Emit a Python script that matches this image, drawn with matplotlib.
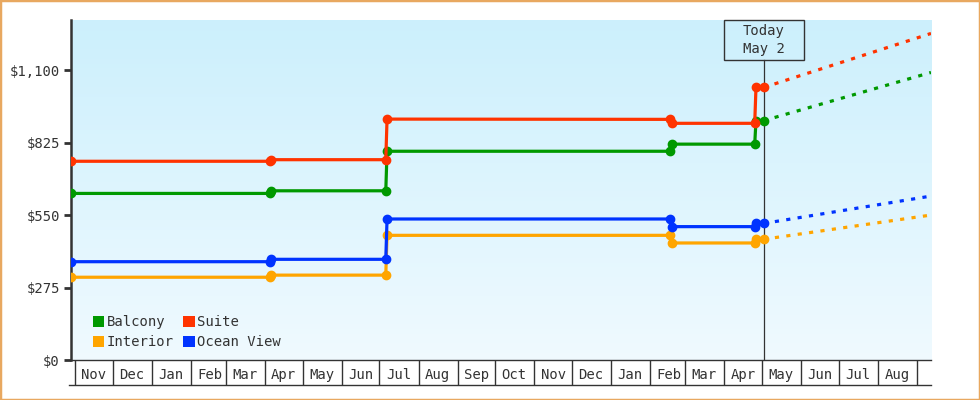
import datetime as dt
import numpy as np
import matplotlib
matplotlib.use("Agg")
import matplotlib.pyplot as plt
import matplotlib.dates as mdates
from matplotlib.patches import Patch, Rectangle
from matplotlib.lines import Line2D

# price history (date, price) per cabin type
hist_dates = ["2012-10-29", "2013-04-05", "2013-04-06", "2013-07-06", "2013-07-07",
              "2014-02-17", "2014-02-18", "2014-04-25", "2014-04-26", "2014-05-02"]
balcony = [632, 632, 642, 642, 792, 792, 819, 819, 908, 908]
suite = [754, 754, 760, 760, 914, 913, 898, 898, 1034, 1034]
interior = [314, 314, 322, 322, 473, 473, 444, 444, 458, 458]
ocean_view = [373, 373, 382, 382, 535, 535, 506, 506, 518, 518]

# projected prices from today to end of range
proj_dates = ["2014-05-02", "2014-09-12"]
balcony_proj = [908, 1091]
suite_proj = [1034, 1239]
interior_proj = [458, 550]
ocean_view_proj = [518, 622]

series_names = ["Balcony", "Interior", "Suite", "Ocean View"]
series_colors = ["#009900", "#ffa500", "#ff3300", "#0033ff"]

today = "2014-05-02"
today_label = "Today\nMay 2"
x_range = ("2012-10-29", "2014-09-12")
y_ticks = [0, 275, 550, 825, 1100]
y_max = 1290

FONT = "DejaVu Sans Mono"
INK = "#333333"
FS = 10


def to_num(dates):
    return mdates.date2num([dt.datetime.strptime(d, "%Y-%m-%d") for d in dates])


fig = plt.figure(figsize=(9.8, 4.0), dpi=100)
fig.patch.set_facecolor("white")
ax = fig.add_axes([71 / 980, 40 / 400, 860 / 980, 340 / 400])

# gradient background
grad = np.linspace(0, 1, 256)[:, None, None]
top_c = np.array([0.80, 0.94, 0.99])
bot_c = np.array([0.94, 0.98, 1.0])
img = top_c * (1 - grad) + bot_c * grad
img = np.repeat(img, 2, axis=1)
ax.imshow(img, extent=(0, 1, 0, 1), transform=ax.transAxes, aspect="auto", zorder=0)

hx = to_num(hist_dates)
px = to_num(proj_dates)
hist = [balcony, interior, suite, ocean_view]
proj = [balcony_proj, interior_proj, suite_proj, ocean_view_proj]

for ys, ps, c in zip(hist, proj, series_colors):
    ax.plot(hx, ys, color=c, lw=2.3, marker="o", ms=6, mec=c, zorder=3)
    ax.plot(px, ps, color=c, lw=2.3, dashes=(1.3, 2.3), dash_capstyle="butt", zorder=3)

xmin, xmax = to_num(x_range)
ax.set_xlim(xmin, xmax)
ax.set_ylim(0, y_max)

# today marker
t = to_num([today])[0]
box_y = (360 - 60) / 340
ax.axvline(t, ymin=0, ymax=box_y, color=INK, lw=0.9, zorder=2)
px_per_day = 860 / (xmax - xmin)
hw = 40 / px_per_day
ax.add_patch(Rectangle((t - hw, box_y), 2 * hw, 1 - box_y, transform=ax.get_xaxis_transform(),
                       facecolor="none", edgecolor=INK, lw=1.0, zorder=4, clip_on=False))
ax.text(t, (1 + box_y) / 2, today_label, transform=ax.get_xaxis_transform(), ha="center",
        va="center", fontsize=FS, family=FONT, color=INK, linespacing=1.35, zorder=5)

# y axis
ax.set_yticks(y_ticks)
ax.set_yticklabels(["$" + format(v, ",") for v in y_ticks], family=FONT, fontsize=FS, color=INK)
ax.tick_params(axis="y", length=5, width=2, color=INK, pad=3)

# x axis as month boxes
ax.xaxis.set_major_locator(mdates.MonthLocator())
ax.xaxis.set_major_formatter(plt.NullFormatter())
ax.xaxis.set_minor_locator(mdates.MonthLocator(bymonthday=16))
ax.xaxis.set_minor_formatter(mdates.DateFormatter("%b"))
ax.tick_params(axis="x", which="major", length=18, width=1.0, color=INK, direction="out")
ax.tick_params(axis="x", which="minor", length=0, pad=6, labelsize=FS, labelcolor=INK)
for lab in ax.get_xticklabels(minor=True):
    lab.set_family(FONT)

for s in ["top", "right"]:
    ax.spines[s].set_visible(False)
ax.spines["left"].set_linewidth(1.8)
ax.spines["left"].set_color(INK)
ax.spines["bottom"].set_linewidth(1.0)
ax.spines["bottom"].set_color(INK)
ax.add_line(Line2D([-0.002, 1.0], [-25 / 340, -25 / 340], transform=ax.transAxes,
                   color=INK, lw=1.0, clip_on=False))

# legend
handles = [Patch(facecolor=c, edgecolor="none", label=n) for n, c in zip(series_names, series_colors)]
ax.legend(handles=handles, ncol=2, loc="lower left", bbox_to_anchor=(0.025, 0.032),
          frameon=False, prop={"family": FONT, "size": FS}, handlelength=0.85,
          handleheight=0.85, handletextpad=0.15, columnspacing=0.7, labelspacing=0.45,
          borderpad=0, borderaxespad=0, labelcolor=INK)

# outer border
fig.add_artist(Rectangle((0, 0), 1, 1, transform=fig.transFigure, fill=False,
                         edgecolor="#e8a860", lw=2.5))

fig.savefig("out.png", dpi=100)
